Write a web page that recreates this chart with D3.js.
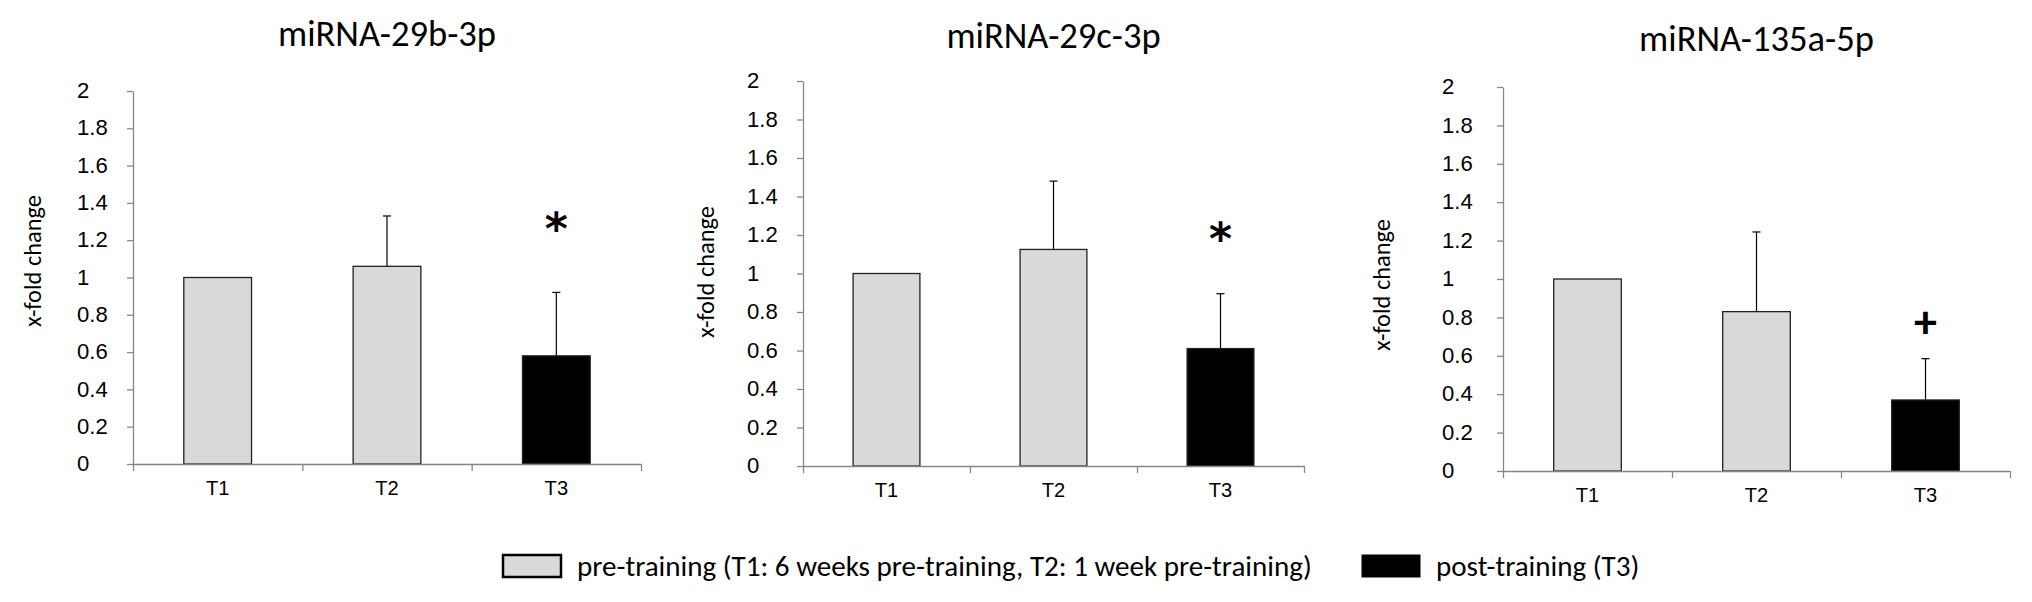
<!DOCTYPE html>
<html>
<head>
<meta charset="utf-8">
<script src="https://cdn.jsdelivr.net/npm/d3@7"></script>
<style>
  body{margin:0;background:#fff}
  svg{display:block;font-family:Carlito,Calibri,Lato,sans-serif}
  .axis path,.axis line{stroke:#878787;stroke-width:1.3px}
  .axis text{fill:#000}
</style>
</head>
<body>
<script>
// data
const timepoints = ['T1','T2','T3']
const phases = ['pre','pre','post']
const mirnas = ['miRNA-29b-3p','miRNA-29c-3p','miRNA-135a-5p']
const means = [
  [1.00,1.06,0.58],
  [1.00,1.125,0.61],
  [1.00,0.83,0.37],
]
const sds = [
  [0,0.27,0.34],
  [0,0.355,0.285],
  [0,0.415,0.215],
]
const marks = [['','','*'],['','','*'],['','','+']]
const markLevels = [1.32,1.24,0.78]
const yTicks = [0,0.2,0.4,0.6,0.8,1,1.2,1.4,1.6,1.8,2]
const legendLabels = ['pre-training (T1: 6 weeks pre-training, T2: 1 week pre-training)','post-training (T3)']

const W = 2032, H = 602
const fill = {pre:'#d9d9d9',post:'#000'}

// panel frames (pixels)
const frames = [
  {x0:133,x1:641,top:91,bot:464,titleY:46,ylabX:32,ylabY:261,tickX:77},
  {x0:803,x1:1304,top:81,bot:466,titleY:48,ylabX:705,ylabY:272,tickX:747},
  {x0:1503,x1:2010,top:87,bot:471,titleY:51,ylabX:1381,ylabY:285,tickX:1442},
]

const svg = d3.select('body').append('svg').attr('width',W).attr('height',H)

// font sizes picked so a sample string has the width it has in the original
// (the original face, Calibri, isn't here)
const sizeFor = (str,width) => {
  const t = svg.append('text').style('font-size','100px').text(str)
  const s = 100*width/t.node().getComputedTextLength()
  t.remove()
  return s+'px'
}
const fs = {
  title: sizeFor('miRNA-29b-3p',218),
  ylab: sizeFor('x-fold change',132),
  ytick: sizeFor('1.8',28),
  xtick: sizeFor('T1',20),
  legend: sizeFor(legendLabels[0],735),
}

mirnas.forEach((name,p) => {
  const f = frames[p]
  const g = svg.append('g').classed('panel',true)
  const x = d3.scaleBand().domain(timepoints).range([f.x0,f.x1]).paddingInner(0.6).paddingOuter(0.3)
  const edges = d3.scaleLinear().domain([0,timepoints.length]).range([f.x0,f.x1])
  const y = d3.scaleLinear().domain([0,2]).range([f.bot,f.top])
  const rows = timepoints.map((t,i) => ({t,m:means[p][i],sd:sds[p][i],phase:phases[i],mark:marks[p][i]}))

  // y axis, labels left-aligned like the original
  g.append('g').classed('axis',true)
    .attr('transform',`translate(${f.x0},0)`)
    .call(d3.axisLeft(y).tickValues(yTicks).tickSize(6).tickSizeOuter(0).tickFormat(d => String(+d.toFixed(1))))
    .call(a => a.selectAll('text')
      .attr('text-anchor','start')
      .attr('x',f.tickX-f.x0)
      .attr('dy','0.3em')
      .style('font-size',fs.ytick))

  // error bars (upper only)
  const err = g.append('g').selectAll('g').data(rows.filter(d => d.sd>0)).enter().append('g')
  err.append('line')
    .attr('x1',d => x(d.t)+x.bandwidth()/2).attr('x2',d => x(d.t)+x.bandwidth()/2)
    .attr('y1',d => y(d.m)).attr('y2',d => y(d.m+d.sd))
    .attr('stroke','#000').attr('stroke-width',1.2)
  err.append('line')
    .attr('x1',d => x(d.t)+x.bandwidth()/2-4).attr('x2',d => x(d.t)+x.bandwidth()/2+4)
    .attr('y1',d => y(d.m+d.sd)).attr('y2',d => y(d.m+d.sd))
    .attr('stroke','#000').attr('stroke-width',1.2)

  // bars
  g.append('g').selectAll('rect').data(rows).enter().append('rect')
    .attr('x',d => x(d.t))
    .attr('y',d => y(d.m))
    .attr('width',x.bandwidth())
    .attr('height',d => y(0)-y(d.m))
    .attr('fill',d => fill[d.phase])
    .attr('stroke','#222').attr('stroke-width',1.3)

  // x axis: ticks on band edges, labels in band centres
  g.append('g').classed('axis',true)
    .attr('transform',`translate(0,${f.bot})`)
    .call(d3.axisBottom(edges).tickValues(d3.range(timepoints.length+1)).tickSize(7).tickSizeOuter(0).tickFormat(''))
  g.append('g').classed('axis',true)
    .attr('transform',`translate(0,${f.bot})`)
    .call(d3.axisBottom(x).tickSize(0).tickPadding(17))
    .call(a => a.select('.domain').remove())
    .call(a => a.selectAll('text').style('font-size',fs.xtick))

  // significance marks
  g.append('g').selectAll('text').data(rows.filter(d => d.mark)).enter().append('text')
    .attr('x',d => x(d.t)+x.bandwidth()/2)
    .attr('y',y(markLevels[p]))
    .attr('dy',d => d.mark=='*' ? '0.6em' : '0.36em')
    .attr('text-anchor','middle')
    .style('font-family',d => d.mark=='*' ? '"DejaVu Sans",sans-serif' : null)
    .style('font-size',d => d.mark=='*' ? '44px' : '46px')
    .style('font-weight','bold')
    .text(d => d.mark)

  g.append('text')
    .attr('x',(f.x0+f.x1)/2).attr('y',f.titleY)
    .attr('text-anchor','middle')
    .style('font-size',fs.title)
    .text(name)

  g.append('text')
    .attr('transform',`translate(${f.ylabX},${f.ylabY}) rotate(-90)`)
    .attr('text-anchor','middle').attr('dy','0.35em')
    .style('font-size',fs.ylab)
    .text('x-fold change')
})

// legend
const legendX = [503,1362]
const lg = svg.append('g').selectAll('g').data(legendLabels).enter().append('g')
  .attr('transform',(d,i) => `translate(${legendX[i]},555)`)
lg.append('rect')
  .attr('width',58).attr('height',22)
  .attr('fill',(d,i) => fill[['pre','post'][i]])
  .attr('stroke','#000').attr('stroke-width',(d,i) => i ? 1 : 2.5)
lg.append('text')
  .attr('x',74).attr('y',21)
  .style('font-size',fs.legend)
  .text(d => d)
</script>
</body>
</html>
